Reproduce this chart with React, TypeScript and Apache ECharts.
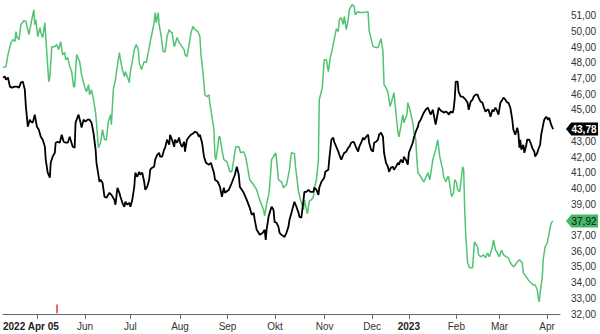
import React, { useEffect, useRef } from "react";
import * as echarts from "echarts";

// x = trading-day index since 2022 Apr 05, y = price
const greenData: [number, number][] = [
  [0, 47.69], [1.4, 47.76], [2.3, 48.52], [3.7, 49.29], [4.6, 49.48], [5.5, 49.35], [6.0, 49.99], [6.5, 49.61],
  [7.4, 49.48], [8.3, 50.44], [9.7, 50.69], [10.6, 50.63], [12.0, 49.8], [12.9, 50.44], [14.3, 51.39], [14.7, 50.44],
  [15.2, 50.75], [16.1, 49.67], [17.1, 50.24], [17.5, 49.93], [18.4, 49.61], [19.4, 50.56], [19.8, 49.67], [21.2, 46.8],
  [21.7, 47.06], [22.6, 49.03], [24.0, 49.03], [24.9, 49.16], [25.8, 48.84], [26.7, 49.35], [27.6, 48.52], [28.6, 48.65],
  [29.0, 48.2], [30.0, 48.33], [30.9, 47.76], [31.8, 47.44], [32.7, 46.48], [33.2, 46.48], [34.1, 48.52], [35.5, 48.08],
  [36.4, 47.25], [37.8, 46.48], [38.7, 46.16], [39.6, 46.61], [40.1, 45.97], [41.0, 46.29], [41.9, 45.65], [42.9, 44.82],
  [43.3, 44.19], [44.2, 42.59], [45.2, 42.91], [46.1, 43.74], [47.0, 43.1], [47.9, 43.1], [48.8, 44.25], [49.8, 44.7],
  [50.2, 44.06], [51.1, 46.29], [52.1, 46.93], [52.5, 47.37], [53.9, 48.65], [54.4, 48.2], [55.3, 47.57], [56.2, 47.12],
  [56.7, 47.44], [57.6, 47.12], [58.5, 46.74], [59.0, 47.44], [59.9, 48.08], [60.8, 48.84], [61.7, 49.16], [62.7, 48.84],
  [63.1, 48.01], [64.1, 47.57], [65.4, 48.08], [66.4, 48.01], [67.3, 48.65], [68.2, 49.35], [69.1, 49.93], [70.0, 50.56],
  [70.5, 51.2], [71.0, 50.56], [71.9, 51.2], [72.3, 50.44], [73.3, 49.67], [74.2, 48.71], [75.1, 48.71], [76.0, 49.67],
  [77.0, 50.12], [77.4, 49.99], [78.3, 49.93], [79.3, 49.03], [79.7, 49.16], [80.6, 49.61], [81.6, 49.29], [82.9, 49.03],
  [83.9, 48.84], [84.3, 48.52], [85.2, 48.39], [86.2, 49.16], [87.1, 49.93], [88.0, 50.31], [88.9, 50.12], [90.3, 49.99],
  [91.2, 49.67], [91.7, 48.52], [92.6, 47.44], [93.5, 45.97], [94.5, 45.84], [95.4, 45.97], [95.8, 45.46], [96.8, 44.57],
  [97.7, 43.74], [98.2, 42.02], [98.6, 41.83], [99.5, 42.65], [100.0, 43.29], [100.5, 43.29], [101.4, 42.46], [102.3, 41.83],
  [103.7, 41.7], [105.1, 41.06], [106.0, 41.06], [107.8, 42.65], [109.2, 42.65], [110.1, 42.27], [111.5, 42.34], [112.4, 42.02],
  [114.3, 40.55], [116.1, 40.23], [117.5, 39.91], [118.9, 39.27], [120.7, 38.64], [121.2, 38.25], [122.1, 39.02], [123.0, 39.53],
  [123.5, 40.1], [124.4, 41.83], [125.3, 42.02], [126.3, 42.27], [126.7, 41.83], [127.6, 40.55], [129.0, 40.42], [129.9, 40.04],
  [131.3, 40.23], [132.7, 41.19], [133.6, 42.27], [135.0, 42.21], [135.5, 41.38], [136.9, 39.78], [137.8, 39.27], [139.2, 38.64],
  [139.6, 39.27], [141.0, 38.38], [141.9, 39.21], [142.8, 39.27], [143.8, 39.47], [144.2, 40.04], [145.2, 40.55], [146.1, 41.83],
  [146.5, 45.65], [147.9, 46.42], [148.8, 48.2], [149.8, 48.2], [150.7, 47.44], [151.6, 48.33], [152.5, 48.84], [153.4, 49.48],
  [154.4, 50.18], [155.3, 49.99], [155.8, 50.75], [156.7, 50.88], [157.6, 50.44], [158.1, 50.95], [159.0, 50.12], [159.9, 50.75],
  [160.4, 51.39], [161.7, 51.71], [162.7, 51.58], [163.1, 51.07], [164.5, 51.26], [165.4, 51.2], [166.8, 51.2], [169.1, 51.26],
  [169.6, 50.05], [171.4, 49.03], [172.8, 48.97], [173.7, 48.97], [175.1, 49.54], [176.0, 48.71], [176.5, 46.61], [177.4, 46.42],
  [178.3, 46.1], [179.3, 45.21], [180.6, 45.84], [181.1, 46.1], [182.0, 44.82], [182.9, 43.61], [183.4, 43.29], [184.3, 43.93],
  [185.2, 44.7], [185.7, 44.19], [187.1, 44.7], [187.5, 45.46], [188.5, 45.01], [189.8, 44.19], [190.3, 43.61], [191.2, 43.1],
  [191.7, 41.83], [192.2, 41.0], [193.5, 40.74], [194.9, 40.42], [195.8, 40.68], [196.8, 41.0], [197.7, 40.55], [199.1, 41.83],
  [200.4, 42.46], [201.4, 43.1], [202.3, 42.02], [203.7, 41.19], [204.1, 40.74], [205.1, 40.42], [206.0, 40.74], [206.4, 40.74],
  [207.8, 39.47], [208.7, 39.72], [209.2, 40.55], [210.1, 40.36], [210.6, 39.91], [211.5, 39.78], [212.4, 40.74], [212.9, 41.38],
  [213.4, 41.19], [213.8, 38.83], [214.3, 37.17], [215.2, 35.26], [216.1, 34.94], [217.5, 34.94], [218.0, 35.89], [218.4, 36.6],
  [219.8, 36.28], [220.3, 35.77], [221.2, 35.64], [222.6, 35.77], [223.5, 35.57], [224.4, 35.89], [225.3, 35.64], [226.7, 36.28],
  [227.2, 36.72], [228.1, 36.08], [229.0, 35.89], [229.9, 35.64], [230.9, 36.08], [231.8, 35.77], [233.2, 35.64], [234.1, 35.57],
  [235.0, 35.26], [236.4, 35.0], [237.3, 35.13], [238.2, 35.32], [239.2, 35.45], [240.5, 35.26], [241.0, 34.62], [242.4, 34.36],
  [243.3, 34.17], [244.2, 34.04], [245.6, 33.85], [246.5, 33.85], [247.5, 33.53], [247.9, 33.02], [248.4, 32.77], [248.8, 33.34],
  [249.8, 34.36], [250.2, 35.45], [251.1, 36.28], [252.1, 36.53], [253.0, 37.17], [253.9, 37.81], [254.8, 37.92],
];

const blackData: [number, number][] = [
  [0, 47.06], [0.9, 47.12], [1.4, 46.93], [2.3, 47.06], [3.2, 46.48], [4.1, 46.42], [5.5, 46.48], [6.5, 46.48],
  [7.4, 46.42], [8.3, 46.74], [9.2, 46.8], [10.1, 46.29], [10.6, 45.21], [11.5, 43.93], [12.4, 44.38], [12.9, 44.25],
  [13.8, 44.19], [14.7, 44.7], [15.7, 43.93], [16.6, 43.74], [17.5, 43.29], [18.4, 43.1], [19.4, 42.65], [19.8, 41.83],
  [20.7, 41.0], [21.7, 40.68], [22.1, 41.63], [23.0, 42.02], [24.0, 42.27], [24.4, 42.91], [25.3, 42.97], [26.3, 42.91],
  [27.2, 43.42], [28.1, 42.97], [29.0, 42.91], [30.0, 42.91], [30.9, 43.29], [31.3, 43.1], [32.3, 42.65], [33.2, 42.59],
  [33.6, 44.19], [35.0, 44.7], [35.9, 44.19], [36.4, 43.87], [37.3, 44.38], [38.2, 44.25], [39.2, 44.38], [40.1, 44.38],
  [41.0, 44.19], [41.9, 43.55], [42.9, 42.46], [43.3, 41.63], [44.7, 40.42], [45.2, 40.55], [46.1, 40.36], [47.0, 39.47],
  [47.9, 39.4], [49.3, 39.72], [50.2, 39.59], [51.6, 39.27], [52.1, 38.96], [53.0, 40.04], [53.9, 39.72], [54.4, 39.47],
  [55.3, 39.08], [56.2, 38.83], [56.7, 39.15], [57.6, 38.96], [58.5, 39.08], [59.0, 38.83], [59.9, 39.27], [60.8, 40.1],
  [61.3, 41.0], [62.2, 40.74], [63.1, 41.06], [63.6, 40.87], [64.5, 41.0], [65.4, 40.42], [65.9, 39.91], [66.8, 40.1],
  [67.7, 40.55], [68.2, 41.19], [69.1, 41.32], [70.0, 41.38], [70.5, 41.83], [71.4, 42.14], [72.3, 42.27], [72.8, 42.02],
  [73.7, 42.02], [74.6, 42.46], [75.1, 42.59], [76.0, 43.1], [77.0, 42.78], [77.4, 43.42], [78.3, 43.1], [79.3, 42.65],
  [79.7, 43.1], [80.6, 42.91], [81.6, 43.23], [82.0, 42.91], [82.9, 42.65], [83.9, 42.97], [84.3, 42.34], [85.2, 43.1],
  [86.2, 43.29], [87.1, 43.42], [88.5, 43.55], [88.9, 43.61], [89.9, 43.55], [90.8, 43.29], [91.2, 43.42], [92.2, 42.91],
  [93.1, 42.02], [94.0, 41.63], [95.4, 41.51], [96.3, 41.63], [97.7, 41.0], [98.2, 40.55], [99.5, 40.42], [100.5, 40.1],
  [101.4, 39.47], [102.3, 40.04], [102.8, 39.72], [104.6, 39.91], [106.0, 40.36], [107.4, 40.87], [108.3, 41.38], [109.2, 40.87],
  [109.7, 40.1], [110.6, 39.91], [111.5, 39.72], [112.9, 39.27], [114.3, 38.76], [115.2, 38.32], [116.1, 38.44], [116.6, 38.0],
  [117.5, 37.36], [118.4, 37.17], [118.9, 37.04], [120.3, 37.17], [121.2, 37.36], [121.7, 36.72], [122.1, 37.36], [123.0, 38.19],
  [123.5, 38.44], [124.4, 38.83], [125.3, 38.64], [125.8, 37.87], [126.7, 37.81], [127.6, 37.55], [128.1, 37.17], [129.0, 37.04],
  [130.4, 36.91], [131.3, 37.17], [132.2, 37.55], [132.7, 38.0], [133.6, 38.44], [134.6, 38.96], [135.0, 39.15], [135.9, 38.83],
  [136.9, 38.44], [137.3, 38.19], [138.2, 38.13], [139.2, 39.27], [139.6, 39.78], [140.5, 39.78], [141.5, 39.91], [142.4, 39.78],
  [143.8, 39.78], [144.2, 40.04], [145.2, 39.91], [146.1, 39.59], [146.5, 40.04], [147.5, 40.42], [148.8, 40.68], [149.3, 41.06],
  [150.7, 41.19], [151.1, 41.83], [152.1, 43.1], [153.0, 43.23], [153.4, 42.97], [154.4, 42.65], [155.3, 42.34], [155.8, 42.14],
  [156.7, 41.83], [157.6, 42.14], [158.1, 42.27], [159.0, 42.34], [159.9, 42.59], [160.4, 42.65], [161.3, 42.91], [162.2, 42.97],
  [162.7, 42.91], [163.6, 42.59], [164.5, 42.34], [165.0, 42.65], [165.9, 42.91], [166.8, 43.23], [167.3, 43.1], [168.2, 43.29],
  [169.1, 43.42], [169.6, 42.91], [170.5, 42.46], [171.4, 42.34], [171.9, 42.91], [172.8, 42.97], [173.7, 43.1], [174.2, 43.42],
  [175.1, 43.55], [176.0, 43.29], [176.5, 42.27], [177.4, 41.63], [178.3, 41.38], [178.8, 41.06], [179.7, 41.32], [180.6, 41.38],
  [181.1, 41.19], [182.0, 41.38], [182.9, 41.63], [183.4, 41.51], [184.3, 41.83], [185.2, 41.63], [185.7, 42.02], [186.6, 41.83],
  [187.5, 41.51], [188.0, 42.27], [188.9, 42.59], [189.8, 42.91], [190.3, 43.23], [191.2, 43.61], [192.2, 43.93], [192.6, 44.19],
  [193.5, 44.38], [194.5, 44.7], [194.9, 44.82], [195.8, 45.01], [196.8, 45.14], [197.2, 45.01], [198.1, 44.7], [199.1, 45.01],
  [199.5, 44.7], [200.4, 44.06], [201.4, 44.82], [201.8, 45.14], [202.8, 44.95], [203.7, 44.89], [204.1, 44.82], [205.1, 44.89],
  [206.0, 44.82], [206.4, 44.7], [207.4, 44.89], [208.3, 44.82], [208.7, 45.01], [209.2, 45.65], [209.7, 46.8], [210.6, 46.8],
  [211.0, 46.16], [212.0, 45.84], [212.9, 45.84], [213.4, 45.78], [214.3, 45.65], [215.2, 45.46], [215.7, 45.01], [216.6, 45.52],
  [217.5, 45.65], [218.0, 45.84], [218.9, 45.97], [219.8, 45.97], [220.3, 45.78], [221.2, 45.52], [222.1, 45.46], [222.6, 45.21],
  [223.5, 44.89], [224.4, 45.01], [224.9, 45.01], [225.8, 44.57], [226.7, 45.01], [227.2, 44.89], [228.1, 45.14], [229.0, 44.89],
  [229.5, 44.7], [230.4, 45.46], [231.3, 45.65], [231.8, 45.78], [232.7, 45.65], [233.6, 45.46], [234.1, 45.46], [235.0, 45.14],
  [235.9, 44.38], [236.4, 43.74], [237.3, 43.42], [238.2, 43.87], [238.7, 43.55], [239.2, 42.59], [239.6, 43.1], [240.1, 42.46],
  [241.0, 42.78], [241.5, 42.27], [242.4, 42.78], [242.8, 43.1], [243.8, 43.1], [244.7, 42.78], [245.1, 42.59], [246.1, 42.34],
  [246.5, 42.02], [247.5, 42.27], [247.9, 42.46], [248.8, 42.78], [249.3, 43.42], [250.2, 44.06], [250.7, 44.38], [251.6, 44.57],
  [252.5, 44.38], [253.0, 44.5], [253.9, 44.06], [254.8, 43.78],
];

// month ticks (trading-day index of the first session of each month)
const monthTickDays = [16, 38, 59, 82, 104, 126, 149, 171, 188, 210, 230, 252];
const monthLabels = ["May", "Jun", "Jul", "Aug", "Sep", "Okt", "Nov", "Dec", "2023", "Feb", "Mar", "Apr"];
const startLabel = "2022 Apr 05";
const boldLabels = ["2022 Apr 05", "2023"];
// a marked session (red tick near the axis)
const markerDay = [25];

const X_MAX = 258;
const Y_MIN = 32;
const Y_MAX = 52;

const GREEN = "#52c374";
const GREEN_TAG = "#47b865";
const FONT = "'Liberation Sans', Arial, sans-serif";

const fmt = (v: number) => v.toFixed(2).replace(".", ",");

export default function App() {
  const ref = useRef<HTMLDivElement>(null);
  useEffect(() => {
    if (!ref.current) return;
    const chart = echarts.init(ref.current, undefined, { renderer: "svg" });
    const labelDays = [0, ...monthTickDays.slice(1)];
    const labelTexts = [startLabel, ...monthLabels.slice(1)];
    const lastBlack = blackData[blackData.length - 1][1];
    const lastGreen = greenData[greenData.length - 1][1];
    const tagPath = "path://M0,6 L6,0 L36,0 L36,12 L6,12 Z";

    chart.setOption({
      animation: false,
      backgroundColor: "#ffffff",
      textStyle: { fontFamily: FONT },
      grid: { left: 0, right: 40, top: 0, bottom: 20, containLabel: false },
      xAxis: {
        type: "value",
        min: 0,
        max: X_MAX,
        splitLine: { show: false },
        axisLine: { show: true, lineStyle: { color: "#5b6d78", width: 1 } },
        axisTick: {
          show: true,
          customValues: monthTickDays,
          length: 5,
          lineStyle: { color: "#5b6d78" },
        },
        axisLabel: {
          customValues: labelDays,
          margin: 7,
          fontSize: 10,
          color: "#333",
          fontFamily: FONT,
          alignMinLabel: "left",
          formatter: (v: number) => {
            let idx = -1;
            for (let i = 0; i < labelDays.length; i++) if (Math.abs(labelDays[i] - v) < 0.01) idx = i;
            if (idx < 0) return "";
            const t = labelTexts[idx];
            return boldLabels.includes(t) ? `{b|${t}}` : t;
          },
          rich: { b: { fontWeight: "bold", fontSize: 10, color: "#222", fontFamily: FONT } },
        },
      },
      yAxis: {
        type: "value",
        position: "right",
        min: Y_MIN,
        max: Y_MAX,
        interval: 1,
        splitLine: { show: false },
        axisLine: { show: false },
        axisTick: { show: false },
        axisLabel: {
          showMaxLabel: false,
          margin: 11,
          fontSize: 10,
          color: "#333",
          fontFamily: FONT,
          // labels hidden behind the last-value tags
          formatter: (v: number) =>
            Math.abs(v - lastBlack) < 0.6 || Math.abs(v - lastGreen) < 0.6 ? "" : fmt(v),
        },
      },
      series: [
        {
          type: "line",
          data: greenData,
          symbol: "none",
          lineStyle: { color: GREEN, width: 1.5 },
          z: 2,
          markLine: {
            silent: true,
            symbol: "none",
            label: { show: false },
            lineStyle: { color: "#e53935", width: 1.5, type: "solid" },
            data: markerDay.map((d) => [{ coord: [d, 32.05] }, { coord: [d, 32.6] }]),
          },
          markPoint: {
            silent: true,
            symbol: tagPath,
            symbolSize: [32, 13],
            symbolKeepAspect: false,
            symbolOffset: [22, 0],
            itemStyle: { color: GREEN_TAG },
            label: {
              show: true,
              position: "inside",
              offset: [2, 0],
              color: "#111",
              fontSize: 10,
              fontFamily: FONT,
              formatter: () => fmt(lastGreen),
            },
            data: [{ coord: [X_MAX, lastGreen], value: lastGreen }],
          },
        },
        {
          type: "line",
          data: blackData,
          symbol: "none",
          lineStyle: { color: "#000000", width: 1.8 },
          z: 3,
          markPoint: {
            silent: true,
            symbol: tagPath,
            symbolSize: [32, 13],
            symbolKeepAspect: false,
            symbolOffset: [22, 0],
            itemStyle: { color: "#000000" },
            label: {
              show: true,
              position: "inside",
              offset: [2, 0],
              color: "#ffffff",
              fontSize: 10,
              fontWeight: "bold",
              fontFamily: FONT,
              formatter: () => fmt(lastBlack),
            },
            data: [{ coord: [X_MAX, lastBlack], value: lastBlack }],
          },
        },
      ],
    });
    return () => chart.dispose();
  }, []);

  return (
    <div
      ref={ref}
      style={{ position: "fixed", left: 0, top: 0, width: 600, height: 334, background: "#fff" }}
    />
  );
}
